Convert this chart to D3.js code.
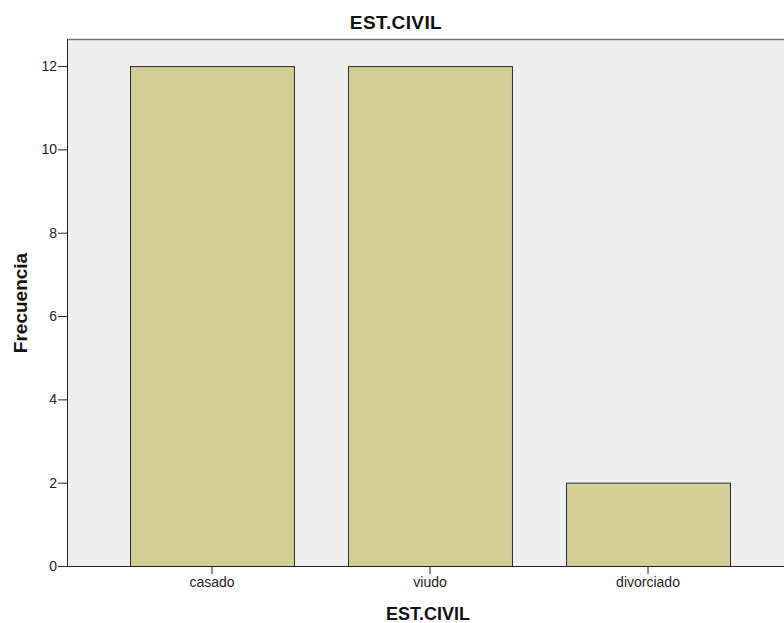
<!DOCTYPE html>
<html><head><meta charset="utf-8">
<script src="https://cdn.jsdelivr.net/npm/d3@7"></script>
<style>body{margin:0;background:#fff}svg{display:block}text{font-family:Arial,"Liberation Sans",sans-serif}</style>
</head><body><svg id="c" width="784" height="623"></svg>
<script>
const categories = ["casado", "viudo", "divorciado"];
const counts = [12, 12, 2];
const yTicks = [0, 2, 4, 6, 8, 10, 12];

const svg = d3.select("#c");
const L = 67, R = 793, T = 39, B = 566;
const x = d3.scaleBand().domain(categories).range([L, R]).paddingInner(0.248).paddingOuter(0.289);
const y = d3.scaleLinear().domain([0, 12.65]).range([B, T]);

svg.append("rect").attr("x", L).attr("y", T).attr("width", 784 - L).attr("height", B - T).attr("fill", "#efefef");
svg.append("line").attr("x1", L).attr("x2", 784).attr("y1", T + 0.5).attr("y2", T + 0.5).attr("stroke", "#777").attr("stroke-width", 1.5);

svg.selectAll("rect.bar").data(categories).enter().append("rect").attr("class", "bar")
  .attr("x", d => x(d) + 0.5).attr("y", (d, i) => y(counts[i]) + 0.5)
  .attr("width", x.bandwidth()).attr("height", (d, i) => B - y(counts[i]))
  .attr("fill", "#d3ce98").attr("stroke", "#2b2b2b").attr("stroke-width", 1);

const ya = svg.append("g").attr("transform", `translate(${L},0)`)
  .call(d3.axisLeft(y).tickValues(yTicks).tickSize(9).tickPadding(1).tickFormat(d3.format("d")));
ya.select(".domain").attr("stroke", "#222").attr("d", `M0.5,${T}V${B}`);
ya.selectAll(".tick line").attr("stroke", "#222");
ya.selectAll("text").attr("font-size", 14).attr("fill", "#222").style("font-family", "Arial, 'Liberation Sans', sans-serif");

const xa = svg.append("g").attr("transform", `translate(0,${B})`)
  .call(d3.axisBottom(x).tickSize(8).tickPadding(3));
xa.select(".domain").attr("stroke", "#222").attr("d", `M${L},0.5H784`);
xa.selectAll(".tick line").attr("stroke", "#222");
xa.selectAll("text").attr("font-size", 14).attr("fill", "#222").style("font-family", "Arial, 'Liberation Sans', sans-serif");

svg.append("text").attr("x", 396).attr("y", 29).attr("text-anchor", "middle")
  .attr("font-size", 19).attr("letter-spacing", 0.4).attr("font-weight", "bold").attr("fill", "#111").text("EST.CIVIL");
svg.append("text").attr("x", 428).attr("y", 620).attr("text-anchor", "middle")
  .attr("font-size", 18).attr("font-weight", "bold").attr("fill", "#111").text("EST.CIVIL");
svg.append("text").attr("transform", "translate(27,303) rotate(-90)").attr("text-anchor", "middle")
  .attr("font-size", 19).attr("font-weight", "bold").attr("fill", "#111").text("Frecuencia");
</script></body></html>
